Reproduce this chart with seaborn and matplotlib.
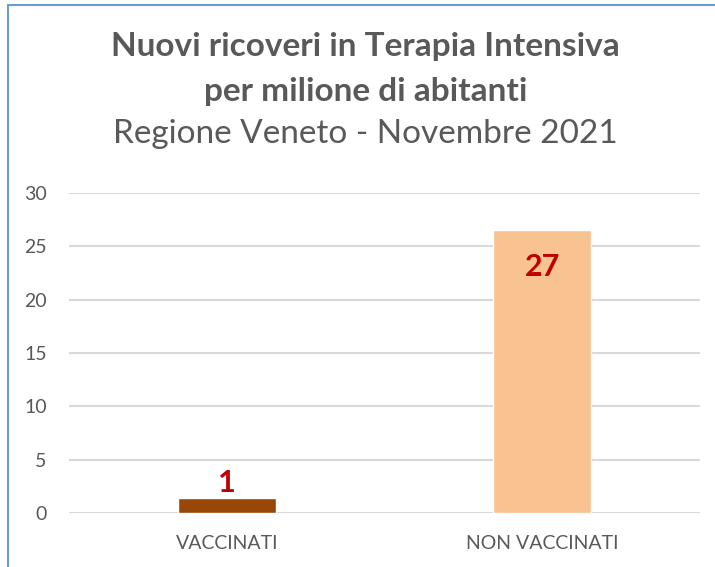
import matplotlib
matplotlib.use("Agg")
import matplotlib.pyplot as plt
import seaborn as sns
import pandas as pd
from matplotlib.lines import Line2D

categories = ["VACCINATI", "NON VACCINATI"]
values = [1.4, 26.5]
value_labels = ["1", "27"]
bar_colors = ["#994706", "#F8C291"]

title_lines = ["Nuovi ricoveri in Terapia Intensiva", "per milione di abitanti"]
subtitle = "Regione Veneto - Novembre 2021"
yticks = [0, 5, 10, 15, 20, 25, 30]

df = pd.DataFrame({"gruppo": categories, "valore": values})

sns.set_style("white")
plt.rcParams["font.family"] = ["Lato", "DejaVu Sans"]

fig = plt.figure(figsize=(7.15, 5.67), dpi=100)
ax = fig.add_axes([0.0965, 0.0952, 0.8825, 0.5644])

sns.barplot(data=df, x="gruppo", y="valore", hue="gruppo", palette=bar_colors,
            width=0.31, legend=False, ax=ax, saturation=1)

ax.set_ylim(0, 30)
ax.set_xlim(-0.5, 1.5)
ax.set_yticks(yticks)
ax.set_xlabel("")
ax.set_ylabel("")
ax.yaxis.grid(True, color="#D9D9D9", linewidth=1.5)
ax.set_axisbelow(True)
for s in ax.spines.values():
    s.set_visible(False)
ax.tick_params(axis="y", length=0, pad=16, labelsize=14, labelcolor="#595959")
ax.tick_params(axis="x", length=0, pad=16, labelsize=14, labelcolor="#595959")

# value labels: first one above the bar, second inside its top
ax.annotate(value_labels[0], (0, values[0]), xytext=(0, 4.5), textcoords="offset points",
            ha="center", va="baseline", fontsize=22, fontweight="bold", color="#C00000")
ax.annotate(value_labels[1], (1, values[1]), xytext=(0, -33), textcoords="offset points",
            ha="center", va="baseline", fontsize=22, fontweight="bold", color="#C00000")

fig.text(0.511, 0.901, title_lines[0], ha="center", va="baseline", fontsize=24,
         fontweight="bold", color="#595959")
fig.text(0.511, 0.822, title_lines[1], ha="center", va="baseline", fontsize=24,
         fontweight="bold", color="#595959")
fig.text(0.511, 0.748, subtitle, ha="center", va="baseline", fontsize=24, color="#595959")

# chart frame (top and left edges visible)
fig.add_artist(Line2D([8 / 715, 8 / 715], [0, 1 - 5 / 567], color="#6C9BD6", linewidth=1.5))
fig.add_artist(Line2D([8 / 715, 1], [1 - 5 / 567, 1 - 5 / 567], color="#6C9BD6", linewidth=1.5))

fig.savefig("out.png", dpi=100)
